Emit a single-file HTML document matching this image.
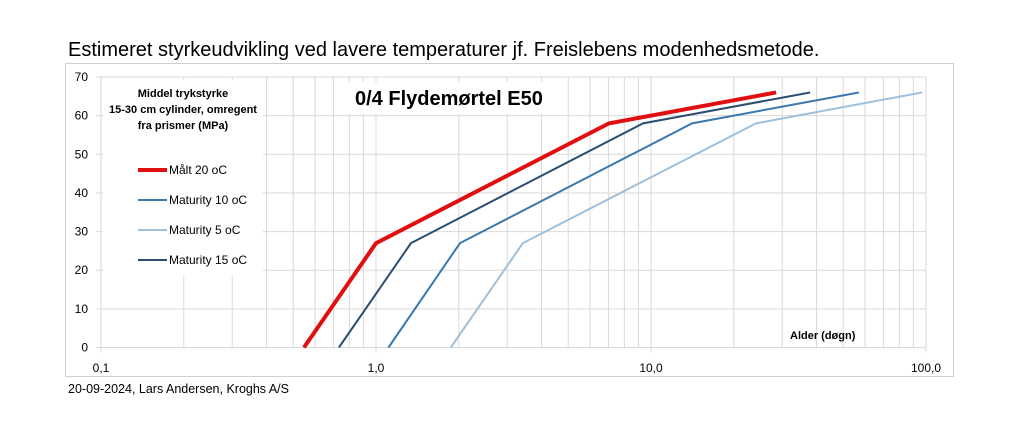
<!DOCTYPE html>
<html><head><meta charset="utf-8"><style>
body{margin:0;background:#fff;width:1024px;height:424px;overflow:hidden;font-family:"Liberation Sans",sans-serif}
svg{display:block}
</style></head><body>
<svg width="1024" height="424">
<text x="68" y="56" font-size="20" fill="#000">Estimeret styrkeudvikling ved lavere temperaturer jf. Freislebens modenhedsmetode.</text>
<rect x="65.5" y="63.5" width="888" height="313" fill="#fff" stroke="#d0d0d0"/>
<g id="grid"></g>
<g id="ticks"></g>
<g id="series"></g>
<rect x="103" y="80" width="160" height="196" fill="#fff"/>
<text x="183" y="97" font-size="11" font-weight="bold" text-anchor="middle"><tspan x="183">Middel trykstyrke</tspan><tspan x="183" dy="16">15-30 cm cylinder, omregent</tspan><tspan x="183" dy="16">fra prismer (MPa)</tspan></text>
<g id="legend"></g>
<rect x="348" y="82" width="218" height="32" fill="#fff"/>
<text x="355" y="105" font-size="20" font-weight="bold">0/4 Flydemørtel E50</text>
<text x="790" y="339" font-size="11" font-weight="bold">Alder (døgn)</text>
<text x="68" y="393" font-size="12.5">20-09-2024, Lars Andersen, Kroghs A/S</text>
</svg>
<script>
const seriesNames=["Målt 20 oC","Maturity 10 oC","Maturity 5 oC","Maturity 15 oC"];
const ages20=[0.547,1.0,7.03,28.5];
const ages10=[1.11,2.02,14.1,57];
const ages5=[1.87,3.42,24.1,96.7];
const ages15=[0.733,1.34,9.35,37.9];
const strength=[0,27,58,66];
const yTicks=[0,10,20,30,40,50,60,70];
const xTicks=[0.1,1,10,100];
const xTickLabels=["0,1","1,0","10,0","100,0"];
const NS="http://www.w3.org/2000/svg";
const X0=101,X1=926,Y0=347.5,Y1=77;
const xs=v=>X0+(Math.log10(v)+1)/3*(X1-X0);
const ys=v=>Y0-v/70*(Y0-Y1);
function mk(t,a,p){const e=document.createElementNS(NS,t);for(const k in a)e.setAttribute(k,a[k]);document.getElementById(p).appendChild(e);return e;}
yTicks.forEach(t=>{
 const l=mk('line',{x1:X0-5,x2:X1,y1:ys(t),y2:ys(t),stroke:'#d9d9d9'},'grid');
 
 
 const tx=mk('text',{x:88,y:ys(t)+4,'font-size':12,'text-anchor':'end'},'ticks');tx.textContent=t;
 
 
});
for(let d=0.1;d<100;d*=10){for(let m=1;m<=10;m++){const v=d*m;
 const l=mk('line',{x1:xs(v),x2:xs(v),y1:Y1,y2:Y0+(m==1||m==10?5:0),stroke:'#d9d9d9'},'grid');
 
 }}
xTicks.forEach((t,i)=>{
 const tx=mk('text',{x:xs(t),y:372,'font-size':12,'text-anchor':'middle'},'ticks');tx.textContent=xTickLabels[i];
 
 
});
const defs=[[ages10,'#3a78ad',2,'series-maturity-10'],[ages5,'#9dc0dc',2,'series-maturity-5'],[ages15,'#2a4e72',2,'series-maturity-15'],[ages20,'#e01010',4,'series-maalt-20']];
defs.forEach(d=>{
 const p=mk('polyline',{points:d[0].map((a,i)=>xs(a)+','+ys(strength[i])).join(' '),fill:'none',stroke:d[1],'stroke-width':d[2]},'series');
 
 
});
const lc=[['#e01010',4],['#3a78ad',2],['#9dc0dc',2],['#2a4e72',2]];
seriesNames.forEach((n,i)=>{const y=170+i*30;
 const l=mk('line',{x1:138,x2:167,y1:y,y2:y,stroke:lc[i][0],'stroke-width':lc[i][1]},'legend');
 
 
 const t=mk('text',{x:169,y:y+4,'font-size':12},'legend');t.textContent=n;
 
 
});
</script>
</body></html>
